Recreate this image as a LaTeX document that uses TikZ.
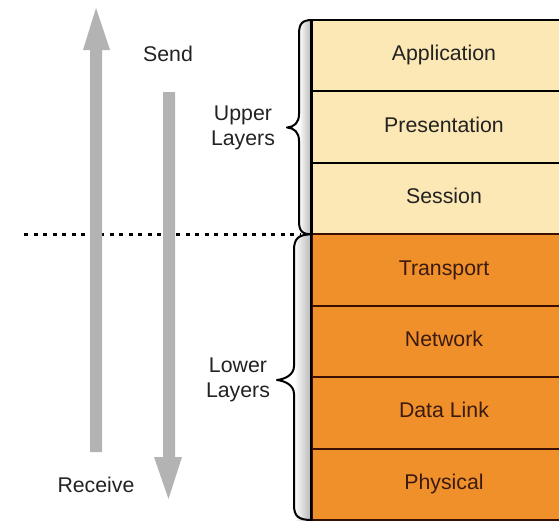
\documentclass[tikz,border=0pt]{standalone}
\usepackage{fontspec}
\setmainfont{Liberation Sans}
\definecolor{upperfill}{HTML}{FCE8B5}
\definecolor{lowerfill}{HTML}{F0902A}
\definecolor{lowerline}{HTML}{3A1005}
\definecolor{lowertext}{HTML}{3B1A10}
\definecolor{labeltext}{HTML}{222222}
\definecolor{arrowgray}{HTML}{B3B3B3}
\begin{document}
\begin{tikzpicture}[x=1pt,y=-1pt,
  font=\fontsize{21.3}{25}\selectfont,
  layer/.style={draw, line width=2pt, minimum width=264pt, minimum height=71.43pt,
                inner sep=0pt, text=labeltext},
  upperlayer/.style={layer, fill=upperfill},
  lowerlayer/.style={layer, fill=lowerfill, text=lowertext, draw=lowerline},
  lbl/.style={text=labeltext, anchor=base, align=center, inner sep=0pt},
  brace/.style={draw=black, line width=2pt, line cap=round, line join=round},
  flowarrow/.style={fill=arrowgray, draw=none}
]
\useasboundingbox (0,0) rectangle (559,523);
\clip (0,0) rectangle (559,523);

% soft shadow strip between the braces and the stack
\shade[left color=white, right color=black!30] (299,20) rectangle (312,234.3);
\shade[left color=white, right color=black!30] (294,234.3) rectangle (312,520);

% the seven layers
\node[upperlayer] (app)  at (444, 55.7)  {};
\node[upperlayer] (pres) at (444,127.1)  {};
\node[upperlayer] (sess) at (444,198.6)  {};
\node[lowerlayer] (trans) at (444,270.0) {};
\node[lowerlayer] (net)  at (444,341.4)  {};
\node[lowerlayer] (dl)   at (444,412.9)  {};
\node[lowerlayer] (phys) at (444,484.3)  {};
\draw[line width=2pt] (app.north west) -- (phys.south west);

\foreach \n/\t in {app/Application, pres/Presentation, sess/Session}
  \node[lbl] at ([yshift=-5pt]\n.center) {\t};
\foreach \n/\t in {trans/Transport, net/Network, dl/Data Link, phys/Physical}
  \node[lbl, text=lowertext] at ([yshift=-5pt]\n.center) {\t};

% braces grouping the layers
\draw[brace] (312,20) .. controls (302,20) and (299,24) .. (299,34)
  -- (299,114) .. controls (299,123) and (294,127) .. (287,127.5)
  .. controls (294,128) and (299,132) .. (299,141)
  -- (299,221) .. controls (299,231) and (302,234.3) .. (312,234.3);
\draw[brace] (312,234.3) .. controls (298,234.3) and (294,239) .. (294,250)
  -- (294,366) .. controls (294,375) and (285,379) .. (277,380)
  .. controls (285,381) and (294,385) .. (294,394)
  -- (294,505) .. controls (294,516) and (298,520) .. (312,520);

% dotted divider between upper and lower layers
\draw[line width=2.5pt, dash pattern=on 4pt off 5.5pt] (24,234.5) -- (300,234.5);

% send / receive arrows
\fill[flowarrow] (90,452) -- (90,50) -- (83,50) -- (96,8) -- (110,50) -- (102,50) -- (102,452) -- cycle;
\fill[flowarrow] (163,92) -- (163,457) -- (154,457) -- (168.5,499) -- (182,457) -- (175,457) -- (175,92) -- cycle;

% labels
\node[lbl] (send) at (168,61) {Send};
\node[lbl] (recv) at (96,492) {Receive};
\node[lbl] (upper) at (243,145) {Upper\\Layers};
\node[lbl] (lower) at (238,397) {Lower\\Layers};
\end{tikzpicture}
\end{document}
